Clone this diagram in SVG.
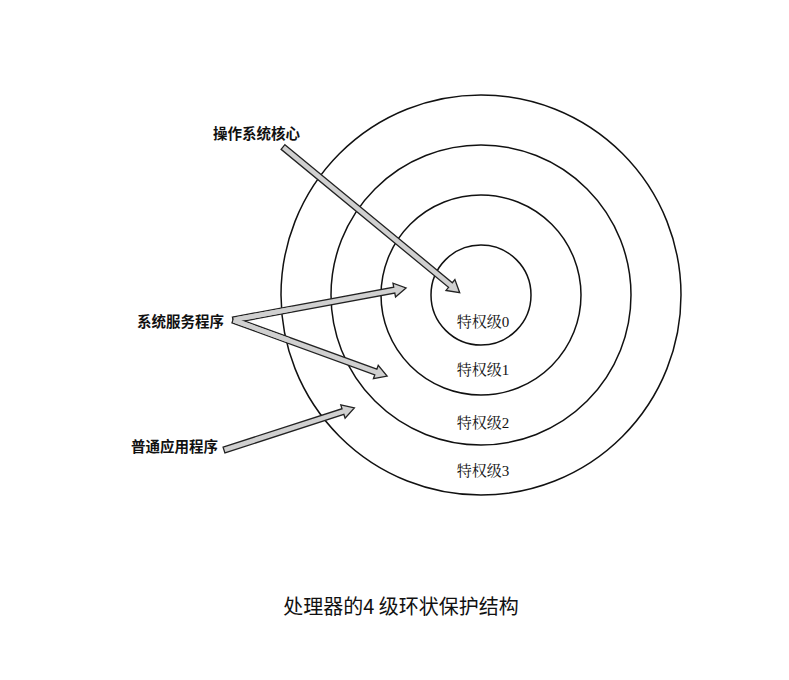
<svg xmlns="http://www.w3.org/2000/svg" width="789" height="680" viewBox="0 0 789 680">
<style>
.ring{fill:none;stroke:#111;stroke-width:1.5}
.arr{fill:#d0d0d0;stroke:#222;stroke-width:1.3;stroke-linejoin:miter}
.arrf{fill:#d0d0d0;stroke:none}
.lbl{font-family:"Noto Sans CJK SC","Noto Sans",sans-serif;font-size:14.5px;font-weight:bold;fill:#111}
.lvl{font-family:"Liberation Serif","Noto Serif CJK SC","Noto Sans CJK SC",serif;font-size:15px;fill:#111;text-anchor:middle}
.cap{font-family:"Noto Sans CJK SC","Liberation Sans",sans-serif;font-size:20px;fill:#111;text-anchor:middle}
</style>
<rect width="789" height="680" fill="#fff"/>
<g id="rings">
<circle class="ring" cx="481" cy="295" r="200"/>
<circle class="ring" cx="481" cy="295" r="150"/>
<circle class="ring" cx="481" cy="295" r="100"/>
<circle class="ring" cx="481" cy="295" r="50"/>
</g>
<g id="levels">
<text class="lvl" x="483" y="327">特权级0</text>
<text class="lvl" x="483" y="375">特权级1</text>
<text class="lvl" x="483" y="428">特权级2</text>
<text class="lvl" x="483" y="476">特权级3</text>
</g>
<g id="connectors">
<path class="arr" transform="translate(283,147) rotate(39.5)" d="M0,-3 L217,-3 L217,-7 L229,0 L217,7 L217,3 L0,3 Z"/>
<path class="arr" transform="translate(233,320) rotate(-10.5)" d="M0,-3 L164,-3 L164,-7 L176,0 L164,7 L164,3 L0,3 Z"/>
<path class="arr" transform="translate(233,320) rotate(20)" d="M0,-3 L152,-3 L152,-7 L164,0 L152,7 L152,3 L0,3 Z"/>
<path class="arrf" transform="translate(233,320) rotate(-10.5)" d="M0.8,-2.3 L60,-2.3 L60,2.3 L0.8,2.3 Z"/>
<path class="arrf" transform="translate(233,320) rotate(20)" d="M0.8,-2.3 L60,-2.3 L60,2.3 L0.8,2.3 Z"/>
<path class="arr" transform="translate(224,450) rotate(-17.9)" d="M0,-3 L125,-3 L125,-7 L137,0 L125,7 L125,3 L0,3 Z"/>
</g>
<g id="labels">
<text class="lbl" x="213" y="139">操作系统核心</text>
<text class="lbl" x="137" y="327">系统服务程序</text>
<text class="lbl" x="131" y="452">普通应用程序</text>
</g>
<g id="caption">
<text class="cap" x="401" y="614">处理器的4 级环状保护结构</text>
</g>
</svg>
